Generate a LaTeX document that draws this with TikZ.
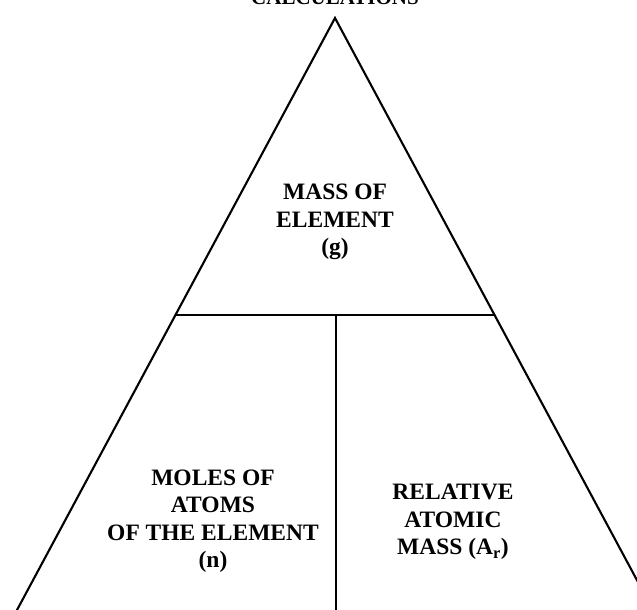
\documentclass[tikz,border=0pt]{standalone}
\usepackage{fontspec}
\setmainfont{Liberation Serif}
\begin{document}
\begin{tikzpicture}[x=1pt,y=1pt,
  edge/.style={line width=2.1pt, line cap=round},
  label/.style={align=center, font=\bfseries\fontsize{23.5}{27.5}\selectfont, inner sep=0pt},
  titlestyle/.style={font=\bfseries\fontsize{21}{25}\selectfont, inner sep=0pt, anchor=base}]
\useasboundingbox (0,0) rectangle (637,610);
\clip (0,0) rectangle (637,610);
\coordinate (apex) at (335,592);
\coordinate (bl) at (17,0);
\coordinate (br) at (653,0);
\coordinate (hl) at (175.5,295);
\coordinate (hr) at (494.5,295);
\coordinate (vt) at (336,295);
\coordinate (vb) at (336,0);
\draw[edge] (bl) -- (apex) -- (br);
\draw[edge] (hl) -- (hr);
\draw[edge] (vt) -- (vb);
\node[titlestyle] (title) at (335,605) {CALCULATIONS};
\node[label] (mass) at (335,388) {MASS OF\\ELEMENT\\(g)};
\node[label] (moles) at (213,89) {MOLES OF\\ATOMS\\OF THE ELEMENT\\(n)};
\node[label] (rel) at (453,88) {RELATIVE\\ATOMIC\\MASS (A\textsubscript{r})};
\end{tikzpicture}
\end{document}
